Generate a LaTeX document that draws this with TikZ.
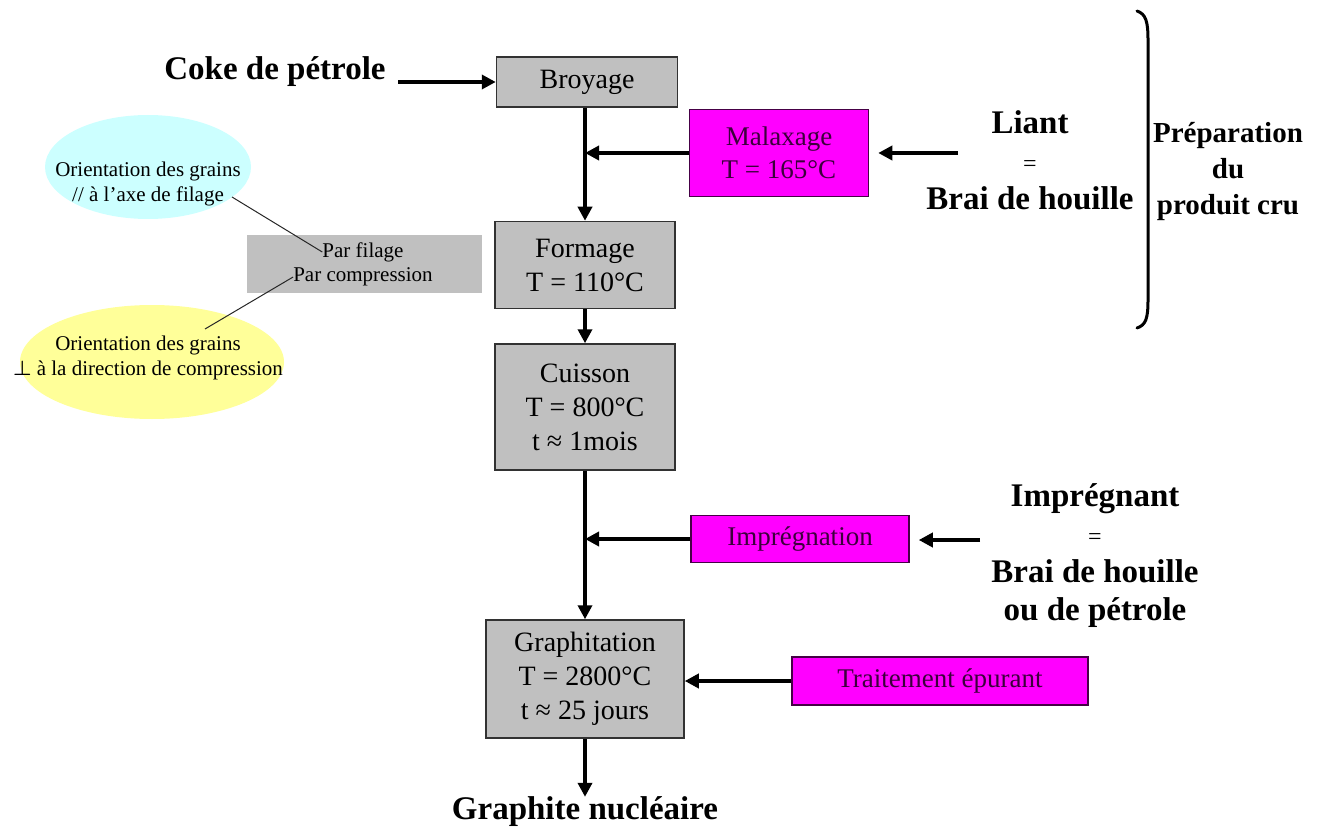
\documentclass[tikz,border=0pt]{standalone}
\usepackage{fontspec}
\setmainfont{Liberation Serif}
\usepackage{tikz}
\usetikzlibrary{arrows.meta,shapes.geometric}

\definecolor{stagegray}{RGB}{192,192,192}
\definecolor{boxline}{RGB}{50,50,50}
\definecolor{addfill}{RGB}{255,0,255}
\definecolor{addline}{RGB}{70,0,70}
\definecolor{addtext}{RGB}{60,0,60}
\definecolor{cyanfill}{RGB}{204,255,255}
\definecolor{yellowfill}{RGB}{255,255,153}

\begin{document}
\begin{tikzpicture}[x=1pt,y=-1pt,
    stage/.style={draw=boxline, fill=stagegray, line width=1.5pt, align=center, inner sep=0pt,
        font=\fontsize{28}{34}\selectfont},
    additive/.style={draw=addline, fill=addfill, line width=1.5pt, align=center, inner sep=0pt,
        text=addtext, font=\fontsize{27}{33}\selectfont},
    biglabel/.style={align=center, inner sep=0pt, font=\bfseries\fontsize{33}{38}\selectfont},
    note/.style={align=center, inner sep=0pt, font=\fontsize{21}{25}\selectfont},
    flow/.style={line width=4pt, -{Triangle[length=14pt,width=14pt]}},
    thin/.style={line width=1pt, draw=black!85}]

    \useasboundingbox (0,0) rectangle (1322,829);

    % main column
    \node[stage, minimum width=181pt, minimum height=50pt] (broyage) at (587,82) {Broyage};
    \node[stage, minimum width=180pt, minimum height=87pt] (formage) at (585,265) {Formage\\T = 110°C};
    \node[stage, minimum width=180pt, minimum height=126pt] (cuisson) at (585,407) {Cuisson\\T = 800°C\\t ≈ 1mois};
    \node[stage, minimum width=198pt, minimum height=118pt] (graphitation) at (585,679) {Graphitation\\T = 2800°C\\t ≈ 25 jours};

    % side inputs
    \node[additive, minimum width=179pt, minimum height=87pt] (malaxage) at (779,153) {Malaxage\\T = 165°C};
    \node[additive, minimum width=218pt, minimum height=47pt] (impregnation) at (800,539) {Imprégnation};
    \node[additive, minimum width=296pt, minimum height=48pt] (traitement) at (940,681) {Traitement épurant};

    \node[biglabel] (coke) at (275,72) {Coke de pétrole};
    \node[biglabel] (liant) at (1030,160) {Liant\\{\mdseries\fontsize{24}{38}\selectfont =}\\Brai de houille};
    \node[biglabel] (impregnant) at (1095,556) {Imprégnant\\{\mdseries\fontsize{24}{38}\selectfont =}\\Brai de houille\\ou de pétrole};
    \node[biglabel] (graphite) at (585,812) {Graphite nucléaire};
    \node[biglabel, font=\bfseries\fontsize{29}{36}\selectfont] (prep) at (1228,172) {Préparation\\du\\produit cru};

    % forming options
    \node[fill=stagegray, minimum width=235pt, minimum height=58pt, inner sep=0pt] (options) at (364,264) {};
    \node[note] (filage) at (363,252) {Par filage};
    \node[note] (compression) at (363,277) {Par compression};

    \node[ellipse, fill=cyanfill, minimum width=206pt, minimum height=104pt] (cyanell) at (148,167) {};
    \node[note] (cyantxt) at (148,184) {Orientation des grains\\// à l’axe de filage};
    \node[ellipse, fill=yellowfill, minimum width=264pt, minimum height=114pt] (yellowell) at (152,362) {};
    \node[note] (yellowtxt) at (148,358) {Orientation des grains\\{\boldmath$\perp$} à la direction de compression};

    \coordinate (cyanend) at (232,197);
    \coordinate (yellowend) at (205,329);
    \draw[thin] (cyanend) -- (filage.west);
    \draw[thin] (yellowend) -- (compression.west);

    % arrows
    \coordinate (cokeend) at (398,82);
    \coordinate (liantin) at (958,153);
    \coordinate (impin) at (980,540);
    \draw[flow] (cokeend) -- (broyage.west |- cokeend);
    \draw[flow] (broyage.south -| formage.north) -- (formage.north);
    \draw[flow] (malaxage.west) -- (malaxage.west -| formage.north);
    \draw[flow, shorten >=9pt] (liantin) -- (liantin -| malaxage.east);
    \draw[flow] (formage) -- (cuisson);
    \draw[flow] (cuisson) -- (graphitation);
    \draw[flow] (impregnation.west) -- (impregnation.west -| cuisson.south);
    \draw[flow, shorten >=9pt] (impin) -- (impin -| impregnation.east);
    \draw[flow] (traitement.west) -- (traitement.west -| graphitation.east);
    \draw[flow] (graphitation) -- (graphite);

    % brace
    \draw[line width=3pt, line cap=round] (1137,11) .. controls (1146,14) and (1148,22) .. (1148,40)
        -- (1148,300) .. controls (1148,318) and (1146,325) .. (1137,328);

\end{tikzpicture}
\end{document}
